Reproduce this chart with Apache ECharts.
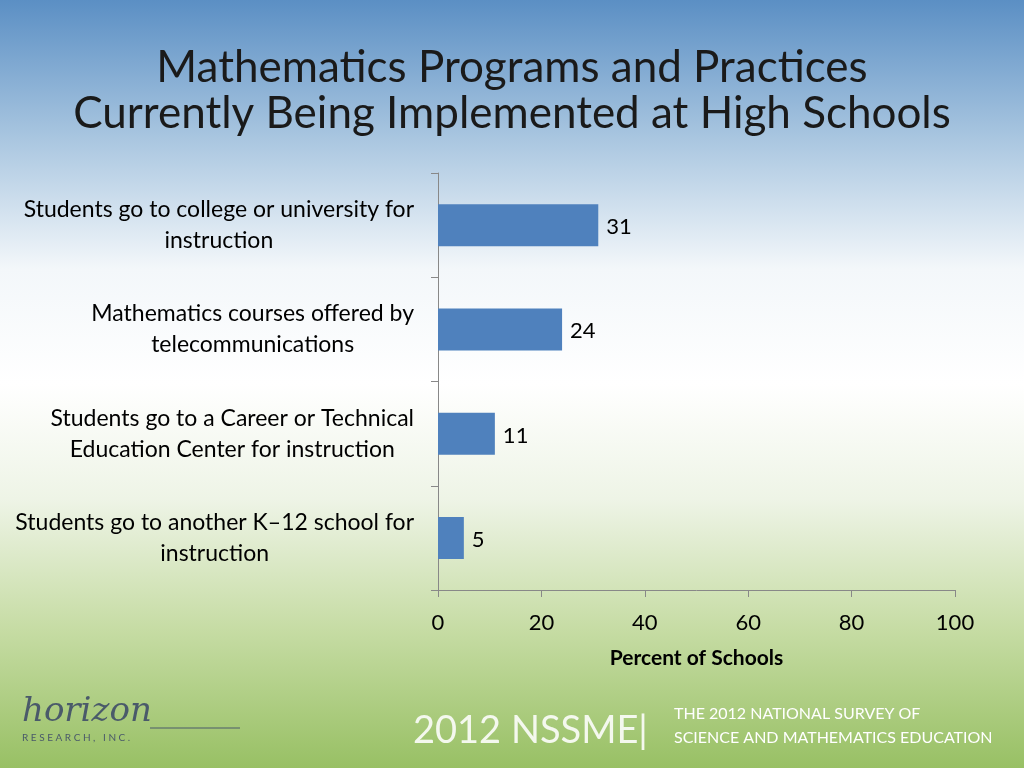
<!DOCTYPE html>
<html><head><meta charset="utf-8">
<script src="https://cdn.jsdelivr.net/npm/echarts@6/dist/echarts.min.js"></script>
<style>html,body{margin:0;padding:0}#c{width:1024px;height:768px}</style>
</head><body><div id="c"></div>
<script>
const categories = [
  "Students go to college or university for\ninstruction",
  "Mathematics courses offered by\ntelecommunications",
  "Students go to a Career or Technical\nEducation Center for instruction",
  "Students go to another K\u201312 school for\ninstruction"
];
const values = [31, 24, 11, 5];
const xTicks = [0, 20, 40, 60, 80, 100];

const chart = echarts.init(document.getElementById('c'));
const F = 'Lato, "Open Sans", sans-serif';
chart.setOption({
  backgroundColor: {
    type: 'linear', x: 0, y: 0, x2: 0, y2: 1,
    colorStops: [
      {offset: 0, color: '#5b8fc4'},
      {offset: 0.18, color: '#a9c6e0'},
      {offset: 0.35, color: '#f3f7fa'},
      {offset: 0.5, color: '#ffffff'},
      {offset: 0.65, color: '#eef4e6'},
      {offset: 0.82, color: '#c6dca4'},
      {offset: 1, color: '#98c064'}
    ]
  },
  title: {
    text: 'Mathematics Programs and Practices\nCurrently Being Implemented at High Schools',
    left: 'center', top: 40,
    textStyle: {fontFamily: F, fontSize: 44, fontWeight: 'normal', color: '#1a1a1a', lineHeight: 46}
  },
  grid: {left: 438, right: 69, top: 173, bottom: 178, containLabel: false},
  xAxis: {
    type: 'value', min: 0, max: 100, interval: 20,
    name: 'Percent of Schools', nameLocation: 'middle', nameGap: 58,
    nameTextStyle: {fontFamily: F, fontSize: 21, fontWeight: 'bold', color: '#000'},
    axisLine: {show: true, lineStyle: {color: '#888'}},
    axisTick: {show: true, length: 7, lineStyle: {color: '#888'}},
    axisLabel: {fontFamily: F, fontSize: 22, color: '#000', margin: 22,
      formatter: v => xTicks.includes(v) ? String(v) : ''},
    splitLine: {show: false}
  },
  yAxis: {
    type: 'category', data: categories, inverse: true,
    axisLine: {show: true, lineStyle: {color: '#888'}},
    axisTick: {show: true, inside: false, length: 7, lineStyle: {color: '#888'}},
    axisLabel: {margin: 24, align: 'right',
      formatter: v => v.split('\n').map(s => '{a|' + s + '}').join('\n'),
      rich: {a: {fontFamily: F, fontSize: 23, color: '#000', lineHeight: 31, align: 'center'}}
    }
  },
  series: [{
    type: 'bar', data: values, barWidth: 42,
    itemStyle: {color: '#4f81bd'},
    label: {show: true, position: 'right', distance: 8, fontFamily: F, fontSize: 22, color: '#000', offset: [0, 2]}
  }],
  graphic: [
    {type: 'text', left: 413, top: 712, style: {text: '2012 NSSME|', fontFamily: F, fontSize: 38, fill: '#f4f8ee'}},
    {type: 'text', left: 674, top: 706, style: {text: 'THE 2012 NATIONAL SURVEY OF', fontFamily: F, fontSize: 16, fill: '#ffffff'}},
    {type: 'text', left: 674, top: 730, style: {text: 'SCIENCE AND MATHEMATICS EDUCATION', fontFamily: F, fontSize: 16, fill: '#ffffff'}},
    {type: 'text', left: 22, top: 695, style: {text: 'horizon', fontFamily: 'DejaVu Serif', fontStyle: 'italic', fontSize: 34, fill: '#4a5a6a'}},
    {type: 'line', shape: {x1: 150, y1: 728, x2: 240, y2: 728}, style: {stroke: '#4a5a6a', lineWidth: 1}},
    {type: 'text', left: 22, top: 733, style: {text: 'R E S E A R C H ,   I N C .', fontFamily: F, fontSize: 10, fill: '#4a5a6a'}}
  ]
});
</script></body></html>
